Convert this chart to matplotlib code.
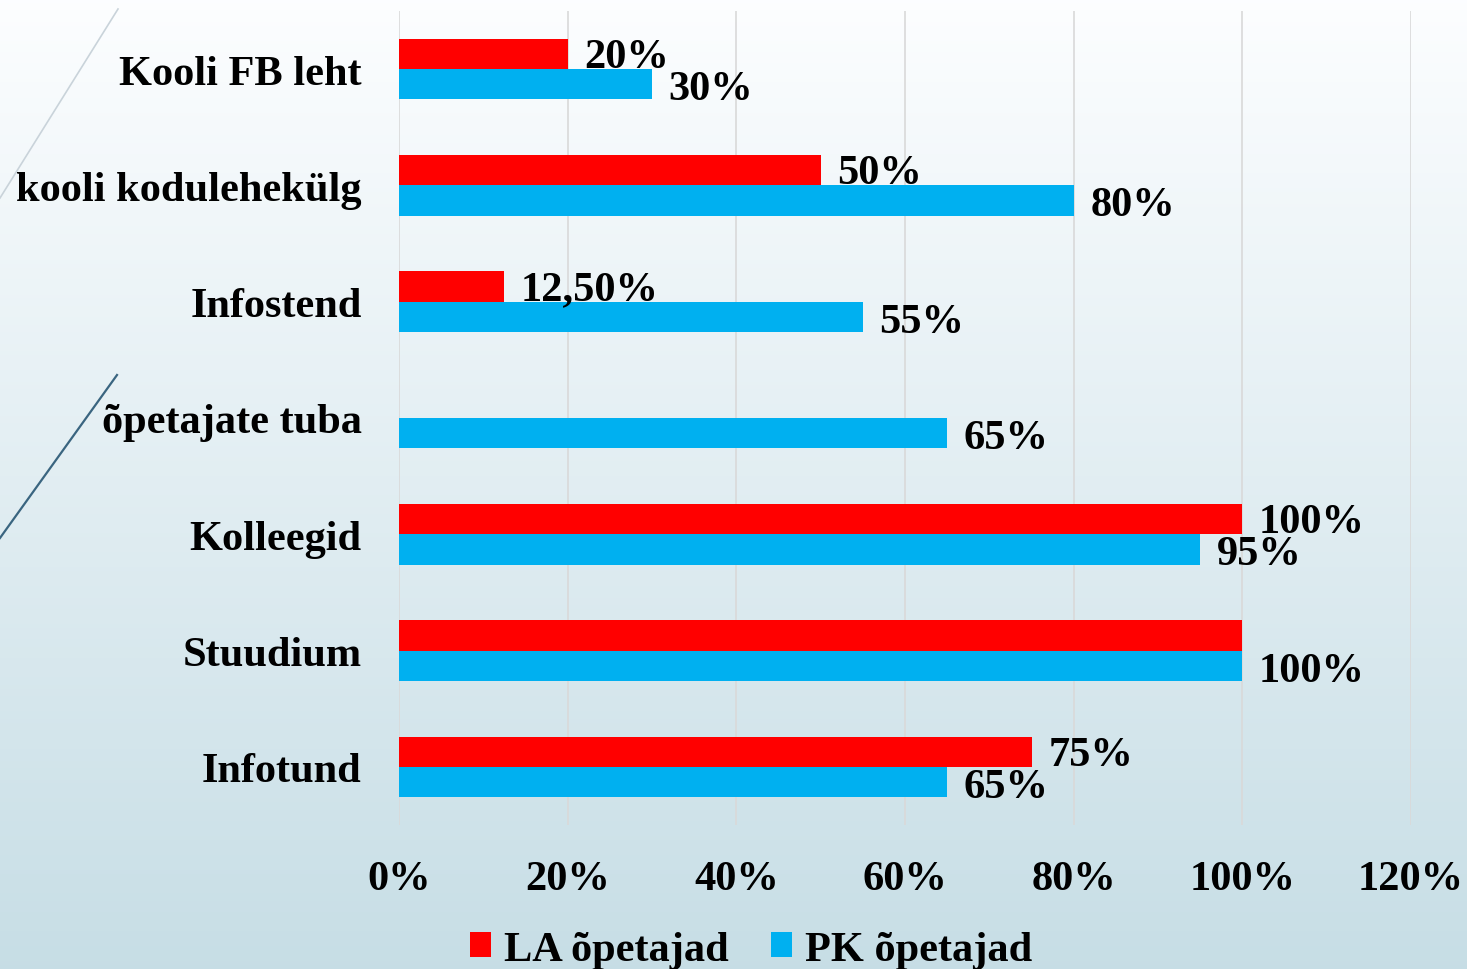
import matplotlib.pyplot as plt
import numpy as np

# data
categories = ["Kooli FB leht", "kooli kodulehekülg", "Infostend", "õpetajate tuba",
              "Kolleegid", "Stuudium", "Infotund"]
la_values = [0.20, 0.50, 0.125, np.nan, 1.00, 1.00, 0.75]
pk_values = [0.30, 0.80, 0.55, 0.65, 0.95, 1.00, 0.65]
la_labels = ["20%", "50%", "12,50%", "", "100%", "", "75%"]
pk_labels = ["30%", "80%", "55%", "65%", "95%", "100%", "65%"]
x_ticks = [0, 0.2, 0.4, 0.6, 0.8, 1.0, 1.2]
x_ticklabels = ["0%", "20%", "40%", "60%", "80%", "100%", "120%"]

plt.rcParams['font.family'] = ['Liberation Serif', 'DejaVu Serif']
plt.rcParams['font.weight'] = 'bold'
fs = 30.5

W, H = 1467, 970
fig = plt.figure(figsize=(W / 100, H / 100), dpi=100)

# background gradient + decorative lines
bg = fig.add_axes([0, 0, 1, 1], zorder=0)
top = np.array([0.99, 0.995, 1.0])
bottom = np.array([0.78, 0.87, 0.90])
t = np.linspace(0, 1, 256)[:, None]
grad = top * (1 - t) + bottom * t
bg.imshow(grad[:, None, :], aspect='auto', extent=[0, W, H, 0])
bg.plot([118, 0], [10, 199], color='#c9d3da', lw=1.2)
bg.plot([117, 0], [376, 539], color='#3a6580', lw=1.6)
bg.set_xlim(0, W)
bg.set_ylim(H, 0)
bg.axis('off')

ax = fig.add_axes([399 / W, 1 - 826 / H, (1411 - 399) / W, (826 - 12) / H], zorder=1)
ax.set_facecolor('none')

y = np.arange(len(categories))
h = 0.26
ax.barh(y - h / 2, la_values, height=h, color='#ff0000', label='LA õpetajad', zorder=3)
ax.barh(y + h / 2, pk_values, height=h, color='#00b0f0', label='PK õpetajad', zorder=3)

for i in range(len(categories)):
    if la_labels[i]:
        ax.annotate(la_labels[i], (la_values[i], y[i] - h / 2), xytext=(12, -2),
                    textcoords='offset points', va='center', ha='left',
                    fontsize=fs, fontweight='bold', zorder=4)
    ax.annotate(pk_labels[i], (pk_values[i], y[i] + h / 2), xytext=(12, -3.5),
                textcoords='offset points', va='center', ha='left',
                fontsize=fs, fontweight='bold', zorder=4)

ax.set_ylim(len(categories) - 0.5, -0.5)
ax.set_xlim(0, 1.2)
ax.set_yticks(y)
ax.set_yticklabels(categories, fontsize=fs, fontweight='bold')
ax.set_xticks(x_ticks)
ax.set_xticklabels(x_ticklabels, fontsize=fs, fontweight='bold')
ax.tick_params(axis='both', length=0)
ax.tick_params(axis='x', pad=25)
ax.tick_params(axis='y', pad=27)
ax.grid(axis='x', color='#d9d9d9', lw=1.2, zorder=0)
for s in ax.spines.values():
    s.set_visible(False)

fig.legend(loc='center', bbox_to_anchor=(0.512, 0.020), ncol=2, frameon=False,
           handlelength=0.5, handleheight=0.5, handletextpad=0.3,
           columnspacing=1.0, prop={'weight': 'bold', 'size': fs})

fig.savefig('out.png', dpi=100)
